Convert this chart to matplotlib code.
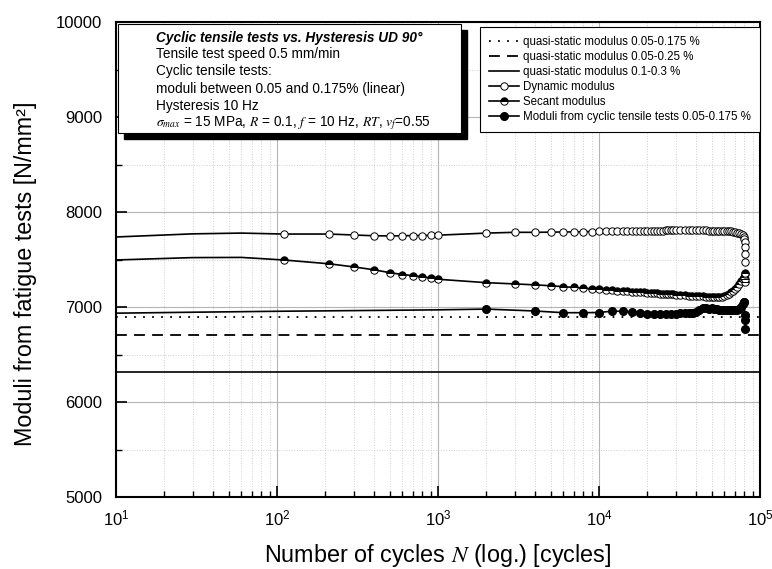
import matplotlib
matplotlib.use('Agg')
import matplotlib.pyplot as plt
from matplotlib.patches import Rectangle
from matplotlib.ticker import LogLocator, MultipleLocator

plt.rcParams['font.family'] = ['Liberation Sans', 'DejaVu Sans']
plt.rcParams['mathtext.fontset'] = 'stix'

# quasi-static moduli (horizontal reference lines)
qs_labels = ['quasi-static modulus 0.05-0.175 %',
             'quasi-static modulus 0.05-0.25 %',
             'quasi-static modulus 0.1-0.3 %']
qs_values = [6890, 6705, 6312]

# hysteresis measurements
cycles = [110, 210, 300, 400, 500, 600, 700, 800, 900, 1000,
          2000, 3000, 4000, 5000, 6000, 7000, 8000, 9000, 10000,
          11000, 12000, 13000, 14000, 15000, 16000, 17000, 18000, 19000, 20000,
          21000, 22000, 23000, 24000, 25000, 26000, 27000, 28000, 29000, 30000,
          32000, 34000, 36000, 38000, 40000, 42000, 44000, 46000, 48000, 50000,
          52000, 54000, 56000, 58000, 60000, 62000, 64000, 66000, 68000, 70000,
          72000, 74000, 76000, 78000, 79000, 80000, 80300, 80600, 80800, 81000]
dyn_y = [7768, 7768, 7758, 7750, 7748, 7750, 7752, 7752, 7754, 7756,
         7778, 7786, 7786, 7788, 7790, 7790, 7792, 7794, 7795,
         7796, 7797, 7798, 7798, 7800, 7800, 7801, 7802, 7802, 7803,
         7803, 7804, 7804, 7805, 7805, 7806, 7806, 7806, 7807, 7807,
         7808, 7808, 7808, 7808, 7807, 7807, 7806, 7806, 7805, 7805,
         7804, 7803, 7802, 7801, 7800, 7799, 7797, 7795, 7792, 7788,
         7784, 7778, 7770, 7755, 7740, 7715, 7680, 7630, 7560, 7470]
sec_y = [7495, 7455, 7422, 7392, 7362, 7342, 7330, 7318, 7306, 7292,
         7256, 7243, 7233, 7224, 7214, 7206, 7199, 7192, 7185,
         7180, 7176, 7172, 7168, 7165, 7162, 7159, 7156, 7153, 7150,
         7148, 7146, 7144, 7142, 7140, 7138, 7136, 7134, 7132, 7130,
         7127, 7124, 7121, 7118, 7116, 7114, 7112, 7110, 7108, 7106,
         7106, 7105, 7105, 7110, 7118, 7128, 7140, 7155, 7172, 7190,
         7210, 7240, 7275, 7300, 7310, 7320, 7345, 7355, 7300, 7265]

# early part of the curves (line only, no measured markers)
dyn_line_x = [10, 30, 60, 110]
dyn_line_y = [7737, 7770, 7778, 7768]
sec_line_x = [10, 30, 60, 110]
sec_line_y = [7495, 7520, 7522, 7495]

# cyclic tensile tests
cyc_line_x = [10, 30, 100, 300, 1000, 2000]
cyc_line_y = [6935, 6945, 6955, 6962, 6970, 6978]
cyc_x = [2000, 4000, 6000, 8000, 10000, 12000, 14000, 16000, 18000, 20000,
         22000, 24000, 26000, 28000, 30000, 32000, 34000, 36000, 38000, 40000,
         42000, 44000, 46000, 48000, 50000, 52000, 54000, 56000, 58000, 60000,
         62000, 64000, 66000, 68000, 70000, 72000, 74000, 76000, 78000, 79000,
         80000, 80300, 80600, 81000]
cyc_y = [6978, 6958, 6940, 6940, 6942, 6956, 6955, 6950, 6936, 6928,
         6925, 6924, 6926, 6928, 6930, 6932, 6934, 6936, 6940, 6950,
         6965, 6985, 6990, 6982, 6985, 6980, 6975, 6970, 6968, 6968,
         6966, 6964, 6966, 6968, 6970, 6972, 6978, 6995, 7030, 7048,
         7050, 6915, 6865, 6765]

info_lines = ['Tensile test speed 0.5 mm/min',
              'Cyclic tensile tests:',
              'moduli between 0.05 and 0.175% (linear)',
              'Hysteresis 10 Hz',
              r'$\sigma_{max}$ = 15 MPa, $R$ = 0.1, $f$ = 10 Hz, $RT$, $v_f$=0.55']

fig = plt.figure(figsize=(7.72, 5.69), dpi=100)
ax = fig.add_axes([116 / 772, 1 - 497 / 569, 644 / 772, 475 / 569])
ax.set_xscale('log')
ax.set_xlim(10, 1e5)
ax.set_ylim(5000, 10000)

ax.axhline(qs_values[0], color='k', lw=1.3, ls=(0, (1, 4)), label=qs_labels[0])
ax.axhline(qs_values[1], color='k', lw=1.3, ls=(0, (6, 4)), label=qs_labels[1])
ax.axhline(qs_values[2], color='k', lw=1.2, ls='-', label=qs_labels[2])

ax.plot(dyn_line_x, dyn_line_y, color='k', lw=1.2)
ax.plot(cycles, dyn_y, color='k', lw=1.2, marker='o', ms=5.3, mfc='white',
        mec='k', mew=0.7, label='Dynamic modulus')
ax.plot(sec_line_x, sec_line_y, color='k', lw=1.2)
ax.plot(cycles, sec_y, color='k', lw=1.2, marker='o', ms=5.3, fillstyle='top',
        mfc='k', markerfacecoloralt='white', mec='k', mew=0.7, label='Secant modulus')
ax.plot(cyc_line_x, cyc_line_y, color='k', lw=1.2)
ax.plot(cyc_x, cyc_y, color='k', lw=1.2, marker='o', ms=5.5, mfc='k', mec='k',
        label='Moduli from cyclic tensile tests 0.05-0.175 %')

# axes styling
ax.yaxis.set_major_locator(MultipleLocator(1000))
ax.yaxis.set_minor_locator(MultipleLocator(500))
ax.xaxis.set_minor_locator(LogLocator(base=10, subs=range(2, 10)))
ax.grid(which='major', color='#b5b5b5', lw=0.8, ls='-')
ax.grid(which='minor', color='#cfcfcf', lw=0.7, ls=':')
ax.set_axisbelow(True)
ax.tick_params(which='major', direction='in', length=8, width=1.2, labelsize=12,
               top=False, right=False)
ax.tick_params(which='minor', direction='in', length=4, width=1.0, top=False, right=False)
ax.tick_params(axis='y', pad=10)
ax.tick_params(axis='x', pad=8)
for s in ax.spines.values():
    s.set_linewidth(1.5)

ax.set_xlabel('Number of cycles $N$ (log.) [cycles]', fontsize=16.8)
ax.set_ylabel('Moduli from fatigue tests [N/mm²]', fontsize=16.8)
ax.xaxis.set_label_coords(0.5, -0.095)
ax.yaxis.set_label_coords(-0.123, 0.47)

# info box with shadow
ax.add_patch(Rectangle((0.012, 0.754), 0.533, 0.229, transform=ax.transAxes,
                       facecolor='k', edgecolor='k', zorder=5))
ax.add_patch(Rectangle((0.003, 0.766), 0.533, 0.230, transform=ax.transAxes,
                       facecolor='white', edgecolor='k', lw=0.8, zorder=6))
ax.text(0.062, 0.966, 'Cyclic tensile tests vs. Hysteresis UD 90°', transform=ax.transAxes,
        fontsize=9.8, fontweight='bold', fontstyle='italic', va='center', zorder=7)
ys = [0.932, 0.896, 0.859, 0.823, 0.787]
for t, y in zip(info_lines, ys):
    ax.text(0.062, y, t, transform=ax.transAxes, fontsize=9.8, va='center', zorder=7)

leg = ax.legend(loc='upper right', bbox_to_anchor=(1.0, 0.989), fontsize=8.3,
                fancybox=False, edgecolor='k', framealpha=1, borderaxespad=0,
                handlelength=2.6, labelspacing=0.25, borderpad=0.8, handletextpad=0.3)
leg.get_frame().set_linewidth(0.8)
leg.set_zorder(8)

fig.savefig('out.png', dpi=100)
